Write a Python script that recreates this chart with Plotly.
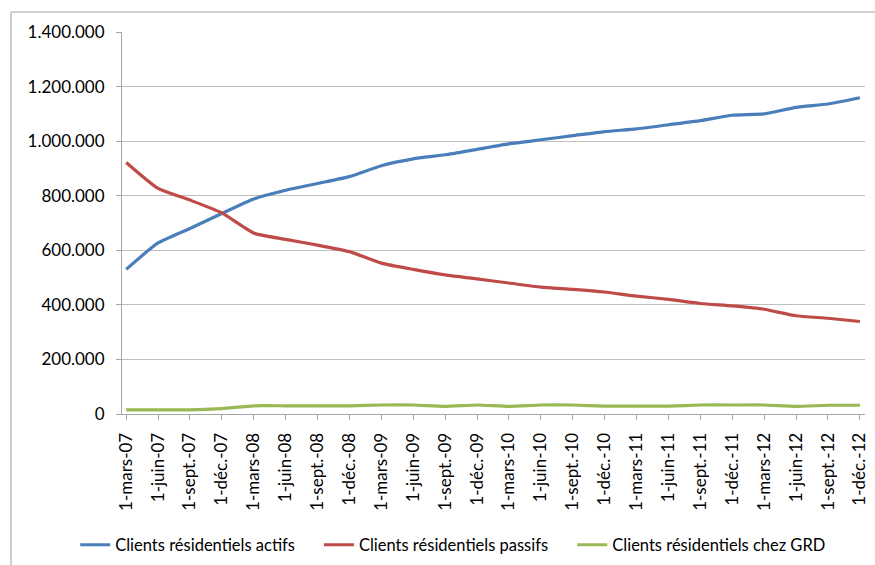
import plotly.graph_objects as go

# Quarterly dates (category labels)
dates = [
    "1-mars-07", "1-juin-07", "1-sept.-07", "1-déc.-07",
    "1-mars-08", "1-juin-08", "1-sept.-08", "1-déc.-08",
    "1-mars-09", "1-juin-09", "1-sept.-09", "1-déc.-09",
    "1-mars-10", "1-juin-10", "1-sept.-10", "1-déc.-10",
    "1-mars-11", "1-juin-11", "1-sept.-11", "1-déc.-11",
    "1-mars-12", "1-juin-12", "1-sept.-12", "1-déc.-12",
]

actifs = [
    530000, 627000, 680000, 735000, 788000, 820000, 845000, 870000,
    910000, 935000, 950000, 970000, 990000, 1005000, 1020000, 1035000,
    1045000, 1060000, 1075000, 1095000, 1100000, 1124000, 1136000, 1159000,
]

passifs = [
    922000, 827000, 784000, 737000, 663000, 640000, 619000, 595000,
    553000, 530000, 510000, 495000, 480000, 465000, 457000, 447000,
    432000, 420000, 405000, 396000, 384000, 360000, 351000, 339000,
]

grd = [
    15000, 15000, 15000, 20000, 30000, 30000, 30000, 30000,
    33000, 33000, 28000, 33000, 28000, 33000, 33000, 29000,
    29000, 29000, 33000, 33000, 33000, 28000, 32000, 32000,
]

series = [
    ("Clients résidentiels actifs", actifs, "#4A7EBB", "legend", -0.063),
    ("Clients résidentiels passifs", passifs, "#BE4B48", "legend2", 0.265),
    ("Clients résidentiels chez GRD", grd, "#98B954", "legend3", 0.606),
]

y_ticks = [0, 200000, 400000, 600000, 800000, 1000000, 1200000, 1400000]

fig = go.Figure()
legends = {}
for name, values, color, leg, lx in series:
    fig.add_trace(go.Scatter(
        x=dates, y=values, name=name, mode="lines", legend=leg,
        line=dict(color=color, width=3.2, shape="spline", smoothing=0.5),
    ))
    legends[leg] = dict(
        orientation="h", x=lx, xanchor="left", y=-0.343, yanchor="middle",
        font=dict(size=16.5), bgcolor="rgba(0,0,0,0)",
    )

fig.update_layout(
    width=875, height=565,
    margin=dict(l=122, r=10, t=32, b=151, autoexpand=False),
    paper_bgcolor="white", plot_bgcolor="white",
    separators=",.",
    font=dict(family="Lato, Carlito, sans-serif", size=16, color="#000000"),
    showlegend=True,
    xaxis=dict(
        type="category", range=[-0.13, 23.16],
        tickangle=-90, tickfont=dict(size=17), ticklabelstandoff=6,
        showgrid=False, showline=True, linecolor="#A6A6A6", linewidth=1,
        ticks="outside", ticklen=5, tickcolor="#A6A6A6",
        automargin=False, fixedrange=True,
    ),
    yaxis=dict(
        range=[0, 1400000], tickvals=y_ticks, tickformat=",d",
        tickfont=dict(size=17), ticklabelstandoff=8,
        showgrid=True, gridcolor="#BFBFBF", gridwidth=1,
        showline=True, linecolor="#A6A6A6", linewidth=1,
        ticks="outside", ticklen=5, tickcolor="#A6A6A6",
        zeroline=False, automargin=False, fixedrange=True,
    ),
    shapes=[
        # chart frame (top and left edges)
        dict(type="line", xref="paper", yref="paper",
             x0=-0.1494, x1=1.02, y0=1.0524, y1=1.0524,
             line=dict(color="#BFBFBF", width=1.5)),
        dict(type="line", xref="paper", yref="paper",
             x0=-0.1494, x1=-0.1494, y0=1.0524, y1=-0.42,
             line=dict(color="#BFBFBF", width=1.5)),
    ],
    **legends,
)

fig.write_html("out.html")
